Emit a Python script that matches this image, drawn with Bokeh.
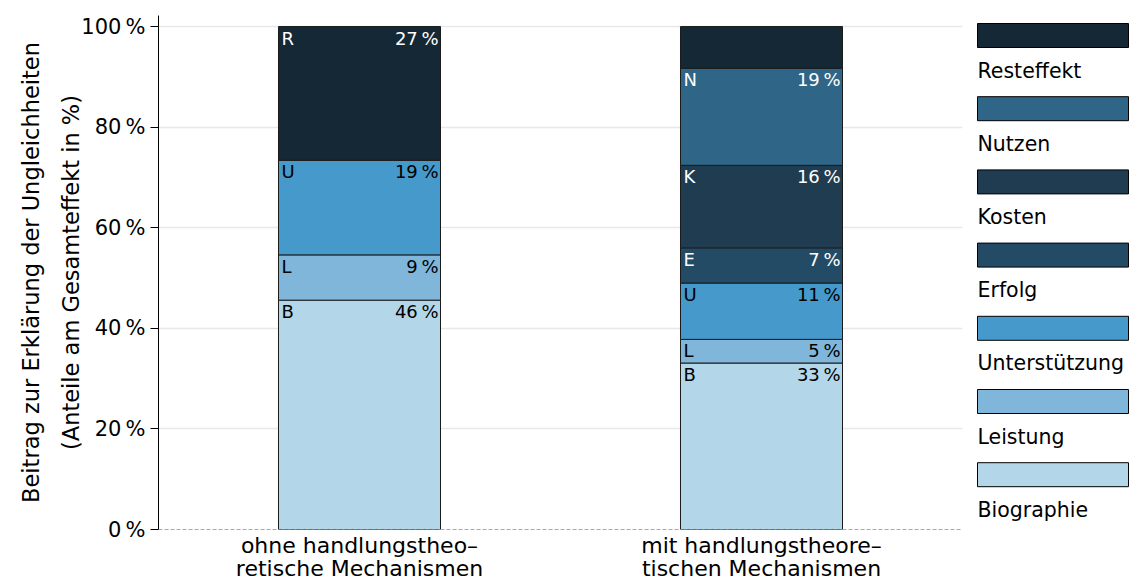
from bokeh.plotting import figure
from bokeh.models import Range1d, FixedTicker, ColumnDataSource, Span
from bokeh.layouts import row
from bokeh.embed import file_html
from bokeh.resources import INLINE
from bokeh.core.properties import value

# ---------------- data ----------------
groups = ["ohne handlungstheo\u2013\nretische Mechanismen",
          "mit handlungstheore\u2013\ntischen Mechanismen"]
components = ["Biographie", "Leistung", "Unterstützung", "Erfolg", "Kosten", "Nutzen", "Resteffekt"]
abbrev = ["B", "L", "U", "E", "K", "N", "R"]
colors = ["#b3d6e9", "#7fb6da", "#4699cb", "#244b66", "#1f3c50", "#2f6586", "#142835"]
text_colors = ["black", "black", "black", "white", "white", "white", "white"]

ohne_values = [45.6, 9.0, 18.8, 0.0, 0.0, 0.0, 26.6]
mit_values = [33.1, 4.7, 11.2, 7.0, 16.4, 19.3, 8.3]
ohne_show = [True, True, True, False, False, False, True]
mit_show = [True, True, True, True, True, True, False]

y_ticks = [0, 20, 40, 60, 80, 100]

FONT = "DejaVu Sans"
PCT = "\u2009%"

# ---------------- main figure ----------------
W, H = 1131, 585
MAIN_W = 970
TOP, BOTTOM = 15, 56
bar_w = 0.403
p = figure(width=MAIN_W, height=H, x_range=Range1d(0, 2), y_range=Range1d(0, 102.2),
           output_backend="svg", toolbar_location=None,
           min_border_left=158, min_border_right=8, min_border_top=TOP,
           min_border_bottom=BOTTOM)
p.outline_line_color = None
p.background_fill_color = "white"

rects = dict(x=[], bottom=[], top=[], color=[])
lab_l = dict(x=[], y=[], text=[], color=[])
lab_r = dict(x=[], y=[], text=[], color=[])
for gi, (vals, show) in enumerate([(ohne_values, ohne_show), (mit_values, mit_show)]):
    xc = gi + 0.5
    base = 0.0
    for ci, v in enumerate(vals):
        if v <= 0:
            continue
        rects["x"].append(xc)
        rects["bottom"].append(base)
        rects["top"].append(base + v)
        rects["color"].append(colors[ci])
        if show[ci]:
            lab_l["x"].append(xc - bar_w / 2)
            lab_l["y"].append(base + v)
            lab_l["text"].append(abbrev[ci])
            lab_l["color"].append(text_colors[ci])
            lab_r["x"].append(xc + bar_w / 2)
            lab_r["y"].append(base + v)
            lab_r["text"].append(f"{round(v):d}{PCT}")
            lab_r["color"].append(text_colors[ci])
        base += v

p.vbar(x="x", bottom="bottom", top="top", width=bar_w, fill_color="color",
       line_color="#1a1a1a", line_width=1, source=ColumnDataSource(rects))
p.text(x="x", y="y", text="text", text_color="color", source=ColumnDataSource(lab_l),
       text_font=value(FONT), text_font_size="18px", text_align="left", text_baseline="top",
       x_offset=3, y_offset=1)
p.text(x="x", y="y", text="text", text_color="color", source=ColumnDataSource(lab_r),
       text_font=value(FONT), text_font_size="18px", text_align="right", text_baseline="top",
       x_offset=-2, y_offset=1)

p.add_layout(Span(location=0, dimension="width", line_color="#555555", line_width=1,
                  line_dash="4 2"))

# axes
p.xaxis.ticker = FixedTicker(ticks=[0.5, 1.5])
p.xaxis.major_label_overrides = {0.5: groups[0], 1.5: groups[1]}
p.xaxis.axis_line_color = None
p.xaxis.major_tick_line_color = None
p.xaxis.major_tick_out = 0
p.xaxis.major_tick_in = 0
p.xaxis.minor_tick_line_color = None
p.xaxis.major_label_text_font = FONT
p.xaxis.major_label_text_font_size = "22px"
p.xaxis.major_label_text_color = "black"
p.xaxis.major_label_standoff = 3
p.xaxis.major_label_text_line_height = 0.95

p.yaxis.ticker = FixedTicker(ticks=y_ticks)
p.yaxis.major_label_overrides = {t: f"{t}{PCT}" for t in y_ticks}
p.yaxis.axis_line_color = "black"
p.yaxis.axis_line_width = 1
p.yaxis.major_tick_out = 8
p.yaxis.major_tick_in = 0
p.yaxis.major_tick_line_color = "black"
p.yaxis.minor_tick_line_color = None
p.yaxis.major_label_text_font = FONT
p.yaxis.major_label_text_font_size = "21px"
p.yaxis.major_label_text_color = "black"
p.yaxis.major_label_standoff = 5
p.yaxis.axis_label = "Beitrag zur Erklärung der Ungleichheiten\n(Anteile am Gesamteffekt in %)"
p.yaxis.axis_label_text_font = FONT
p.yaxis.axis_label_text_font_size = "22.5px"
p.yaxis.axis_label_text_font_style = "normal"
p.yaxis.axis_label_text_color = "black"
p.yaxis.axis_label_standoff = -6
p.yaxis.axis_label_text_line_height = 1.55

p.xgrid.grid_line_color = None
p.ygrid.ticker = FixedTicker(ticks=y_ticks)
p.ygrid.grid_line_color = "#e8e8e8"
p.ygrid.grid_line_width = 1.5

# ---------------- legend figure ----------------
# the row aligns this figure's frame with the main frame, so its y range is
# expressed in page pixels of that frame (top = TOP, bottom = H - BOTTOM)
LW = W - MAIN_W
leg = figure(width=LW, height=H, x_range=Range1d(0, LW), y_range=Range1d(H - BOTTOM, TOP),
             output_backend="svg", toolbar_location=None,
             x_axis_location=None, y_axis_location=None,
             min_border=0, min_border_left=0, min_border_right=0,
             min_border_top=TOP, min_border_bottom=BOTTOM)
leg.grid.visible = False
leg.outline_line_color = None

order = list(range(len(components)))[::-1]  # Resteffekt on top
step = 73.2
sw = dict(left=[], right=[], top=[], bottom=[], color=[])
lt = dict(x=[], y=[], text=[])
for k, ci in enumerate(order):
    top = 23 + k * step
    sw["left"].append(7)
    sw["right"].append(LW - 3)
    sw["top"].append(top)
    sw["bottom"].append(top + 24)
    sw["color"].append(colors[ci])
    lt["x"].append(7)
    lt["y"].append(top + 47)
    lt["text"].append(components[ci])

leg.quad(left="left", right="right", top="top", bottom="bottom", fill_color="color",
         line_color="black", line_width=1, source=ColumnDataSource(sw))
leg.text(x="x", y="y", text="text", source=ColumnDataSource(lt), text_font=value(FONT),
         text_font_size="20.5px", text_color="black", text_align="left",
         text_baseline="alphabetic")

layout = row(p, leg, spacing=0)
open("out.html", "w").write(file_html(layout, INLINE))
